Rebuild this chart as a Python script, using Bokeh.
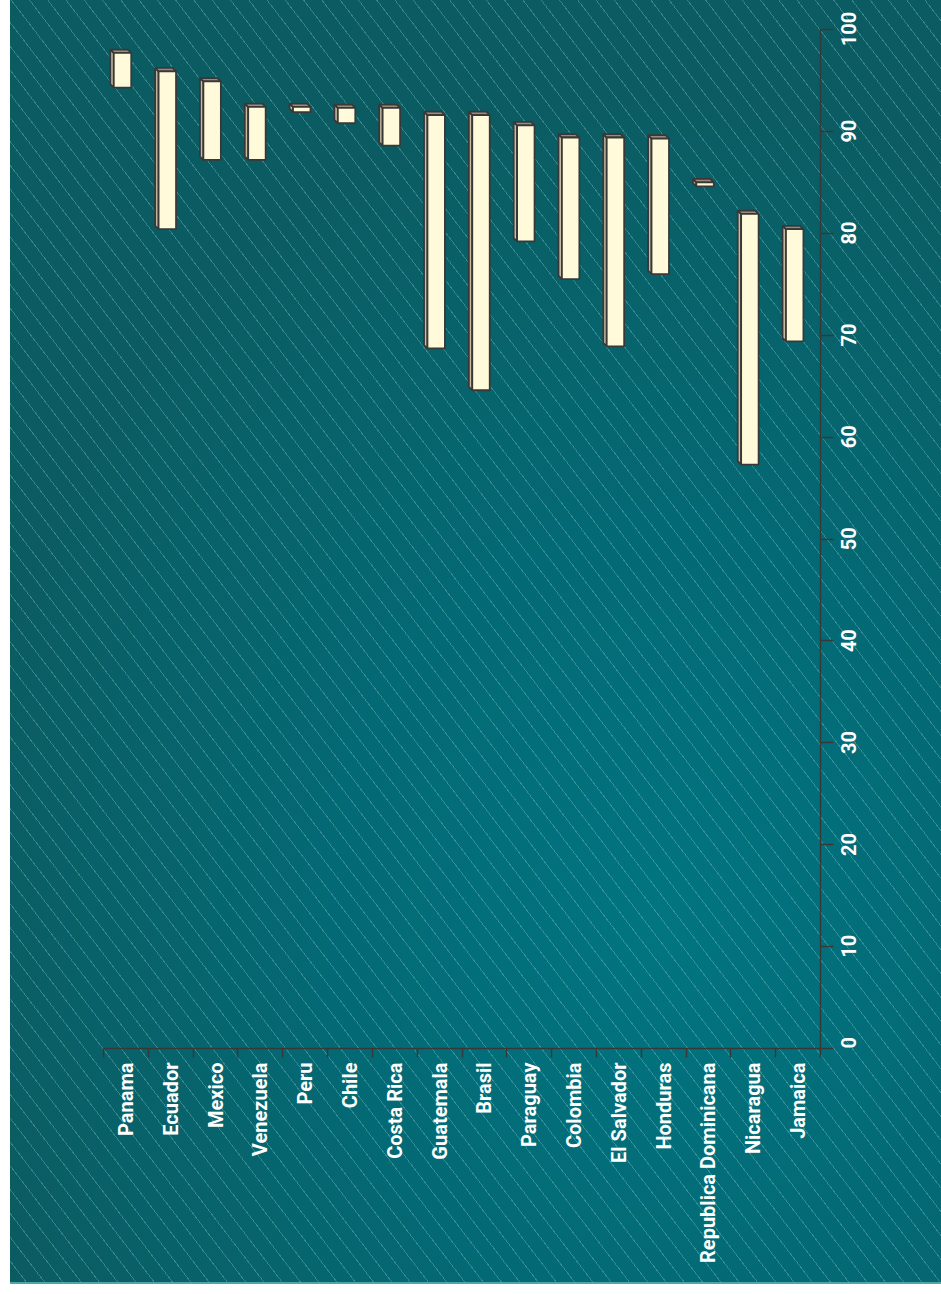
import math
from bokeh.plotting import figure
from bokeh.models import (Range1d, LinearAxis, FixedTicker, CustomJSTickFormatter,
                          ColumnDataSource)
from bokeh.embed import file_html
from bokeh.resources import INLINE

# ---------------- data ----------------
countries = ["Panama", "Ecuador", "Mexico", "Venezuela", "Peru", "Chile",
             "Costa Rica", "Guatemala", "Brasil", "Paraguay", "Colombia",
             "El Salvador", "Honduras", "Republica Dominicana", "Nicaragua", "Jamaica"]
low_vals = [94.3, 80.4, 87.2, 87.2, 91.9, 90.8, 88.6, 68.7,
            64.6, 79.2, 75.5, 68.9, 76.0, 84.6, 57.3, 69.4]
high_vals = [97.7, 95.9, 94.9, 92.4, 92.4, 92.3, 92.3, 91.6,
             91.6, 90.6, 89.4, 89.4, 89.3, 85.0, 81.9, 80.4]
value_ticks = [0, 10, 20, 30, 40, 50, 60, 70, 80, 90, 100]

# ---------------- style ----------------
EDGE = "#383838"
FONT = "Roboto"

n = len(countries)
bar_w = 0.39      # front face width (category units)
shift = 0.076     # front face shift left of category centre
dx = 0.076        # 3D depth, category units
dy = 0.334        # 3D depth, value units

xl = [i + 0.5 - shift - bar_w / 2 for i in range(n)]
xr = [x + bar_w for x in xl]

front = ColumnDataSource(dict(left=xl, right=xr, bottom=low_vals, top=high_vals))
side = ColumnDataSource(dict(
    xs=[[a, a - dx, a - dx, a] for a in xl],
    ys=[[lo, lo + dy, hi + dy, hi] for lo, hi in zip(low_vals, high_vals)]))
topf = ColumnDataSource(dict(
    xs=[[a, b, b - dx, a - dx] for a, b in zip(xl, xr)],
    ys=[[hi, hi, hi + dy, hi + dy] for hi in high_vals]))

p = figure(width=941, height=1294, output_backend="svg", toolbar_location=None,
           x_range=Range1d(0, n), y_range=Range1d(0, 100),
           x_axis_location=None, y_axis_location=None,
           min_border_left=103, min_border_right=121,
           min_border_top=29, min_border_bottom=246)
p.background_fill_color = None
p.border_fill_color = None
p.outline_line_color = None
p.xgrid.visible = False
p.ygrid.visible = False

# teal panel with thin diagonal lines, drawn as the figure's CSS background
p.styles = {
    "background-color": "white",
    "background-image": (
        "linear-gradient(to bottom, rgba(0,0,0,0) 1282px, rgba(90,170,178,0.9) 1282px), "
        "repeating-linear-gradient(52.5deg, rgba(150,210,215,0) 0px, "
        "rgba(150,210,215,0) 13.6px, rgba(150,210,215,0.32) 13.6px, "
        "rgba(150,210,215,0.32) 14.5px), "
        "radial-gradient(ellipse 75% 65% at 70% 72%, #017581 0%, #036a75 45%, #0b5c62 100%)"
    ),
    "background-position": "10px 0px",
    "background-size": "931px 1284px",
    "background-repeat": "no-repeat",
}

p.patches("xs", "ys", source=side, fill_color="#c9bba0", line_color=EDGE, line_width=1.8)
p.patches("xs", "ys", source=topf, fill_color="#9c8b79", line_color=EDGE, line_width=1.8)
p.quad(left="left", right="right", bottom="bottom", top="top", source=front,
       fill_color="#fffad9", line_color=EDGE, line_width=1.8)

# category axis (below)
xaxis = LinearAxis(
    ticker=FixedTicker(ticks=[i + 0.5 for i in range(n)], minor_ticks=list(range(n + 1))),
    formatter=CustomJSTickFormatter(args=dict(names=countries),
                                    code="return names[Math.floor(tick)];"))
xaxis.axis_line_color = EDGE
xaxis.axis_line_width = 1.5
xaxis.major_tick_out = 0
xaxis.major_tick_in = 0
xaxis.minor_tick_out = 9
xaxis.minor_tick_in = 0
xaxis.minor_tick_line_color = EDGE
xaxis.minor_tick_line_width = 1.5
xaxis.major_label_orientation = math.pi / 2
xaxis.major_label_standoff = 5
xaxis.major_label_text_color = "white"
xaxis.major_label_text_font = FONT
xaxis.major_label_text_font_style = "bold"
xaxis.major_label_text_font_size = "20px"
p.add_layout(xaxis, "below")

# value axis (right): line and ticks
yaxis = LinearAxis(ticker=FixedTicker(ticks=value_ticks, minor_ticks=[]),
                   formatter=CustomJSTickFormatter(code='return "";'))
yaxis.axis_line_color = EDGE
yaxis.axis_line_width = 1.5
yaxis.major_tick_out = 13
yaxis.major_tick_in = 0
yaxis.major_tick_line_color = EDGE
yaxis.major_tick_line_width = 1.5
yaxis.minor_tick_out = 0
yaxis.minor_tick_in = 0
yaxis.major_label_standoff = 0
yaxis.major_label_text_font_size = "0px"
p.add_layout(yaxis, "right")

# value labels (reading bottom-to-top); Bokeh anchors rotated labels at their
# start, so each label's anchor is moved down by half its own length
half_digit = 0.55   # half a digit's width, in value units
label_axis = LinearAxis(
    ticker=FixedTicker(ticks=[max(0.0, v - half_digit * len(str(v))) for v in value_ticks],
                       minor_ticks=[]),
    formatter=CustomJSTickFormatter(code="return String(Math.ceil(tick / 10) * 10 + 0);"))
label_axis.axis_line_color = None
label_axis.major_tick_line_color = None
label_axis.minor_tick_line_color = None
label_axis.major_tick_out = 0
label_axis.major_tick_in = 0
label_axis.minor_tick_out = 0
label_axis.minor_tick_in = 0
label_axis.major_label_orientation = math.pi / 2
label_axis.major_label_standoff = 15
label_axis.major_label_text_color = "white"
label_axis.major_label_text_font = FONT
label_axis.major_label_text_font_style = "bold"
label_axis.major_label_text_font_size = "20px"
p.add_layout(label_axis, "right")

open("out.html", "w").write(file_html(p, INLINE))
